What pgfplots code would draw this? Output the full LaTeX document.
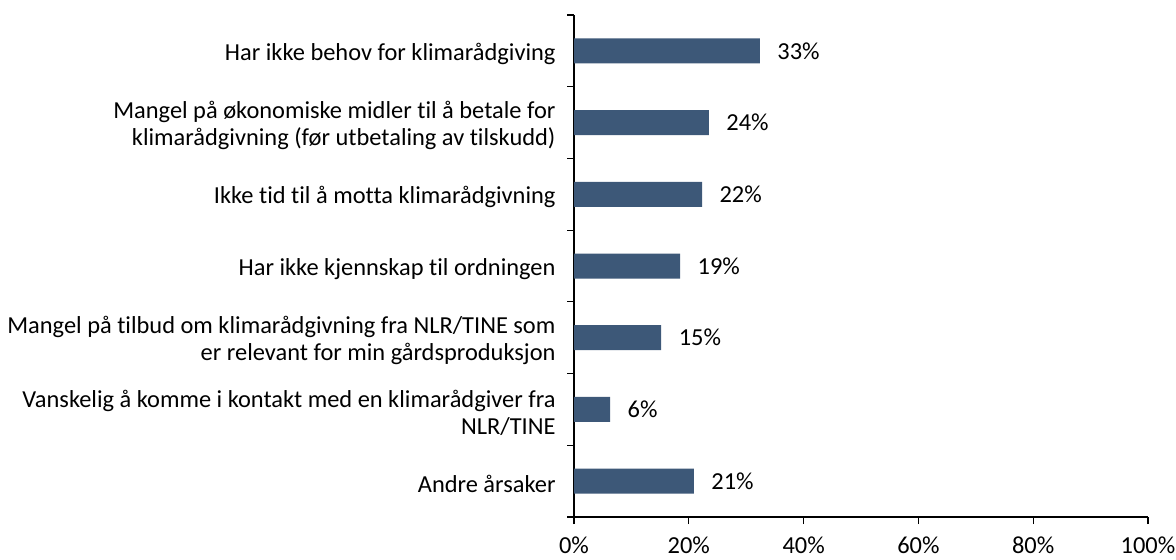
\documentclass[border=0pt]{standalone}
\usepackage{fontspec}
\setmainfont{Carlito}[Ligatures={NoCommon}]
\usepackage{pgfplots}
\pgfplotsset{compat=1.18}
\definecolor{barblue}{RGB}{61,88,120}

\begin{document}
\begin{tikzpicture}
\path[use as bounding box] (0,0) rectangle (1176bp,560bp);
\begin{axis}[
    at={(574bp,43bp)}, anchor=south west,
    scale only axis, width=574bp, height=502bp,
    xmin=0, xmax=100, ymin=-0.5, ymax=6.5,
    xbar, bar width=25bp,
    axis x line*=bottom, axis y line*=left,
    axis line style={-, line width=1.2bp, black},
    xtick={0,20,...,100},
    xticklabel={\pgfmathprintnumber{\tick}\%},
    /pgf/number format/assume math mode=true,
    ytick={0,...,6},
    yticklabels={
        Andre årsaker,
        {Vanskelig å komme i kontakt med en klimarådgiver fra\\NLR/TINE},
        {Mangel på tilbud om klimarådgivning fra NLR/TINE som\\er relevant for min gårdsproduksjon},
        Har ikke kjennskap til ordningen,
        Ikke tid til å motta klimarådgivning,
        {Mangel på økonomiske midler til å betale for\\klimarådgivning (før utbetaling av tilskudd)},
        Har ikke behov for klimarådgiving
    },
    minor ytick={-0.5,0.5,...,6.5},
    tick align=outside,
    major tick length=7bp, minor tick length=7bp,
    tick style={black, line width=1.2bp},
    every major y tick/.style={draw=none},
    tick label style={font=\fontsize{24.5}{27}\selectfont},
    yticklabel style={align=right, xshift=-8bp, yshift=-3bp},
    xticklabel style={yshift=-9bp},
    nodes near coords={\pgfplotspointmeta\%},
    point meta=explicit symbolic,
    every node near coord/.append style={anchor=west, xshift=14bp, font=\fontsize{24.5}{27}\selectfont, black},
]
\addplot[fill=barblue, draw=none] table[x=x, y=y, meta=lab] {
x    y lab
20.9 0 21
6.3  1 6
15.2 2 15
18.5 3 19
22.3 4 22
23.5 5 24
32.4 6 33
};
\end{axis}
\end{tikzpicture}
\end{document}
